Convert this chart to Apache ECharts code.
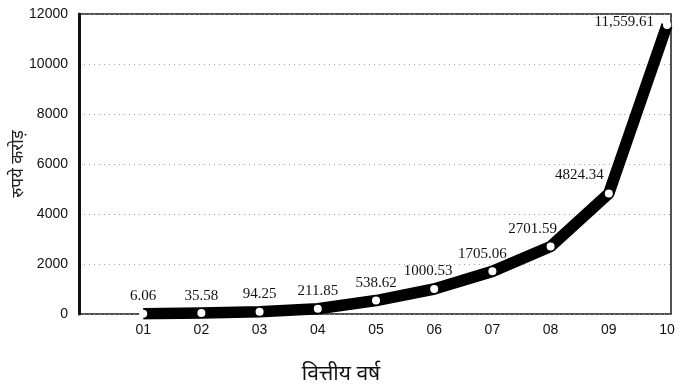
<!DOCTYPE html>
<html>
<head>
<meta charset="utf-8">
<script src="https://cdn.jsdelivr.net/npm/echarts@6/dist/echarts.min.js"></script>
<style>
html,body{margin:0;padding:0;background:#fff;}
#chart{width:694px;height:392px;}
</style>
</head>
<body>
<div id="chart"></div>
<script>
var categories = ['01','02','03','04','05','06','07','08','09','10'];
var values = [6.06, 35.58, 94.25, 211.85, 538.62, 1000.53, 1705.06, 2701.59, 4824.34, 11559.61];
var valueLabels = ['6.06','35.58','94.25','211.85','538.62','1000.53','1705.06','2701.59','4824.34','11,559.61'];
var yTicks = [0, 2000, 4000, 6000, 8000, 10000, 12000];
var yAxisName = 'रुपये करोड़';
var xAxisName = 'वित्तीय वर्ष';

var labelShiftX = [0, 0, 0, 0, 0, -6, -10, -18, 0, 0];

var seriesData = values.map(function (v, i) {
  var item = { value: [i + 1, v] };
  if (i === values.length - 1) {
    item.label = { position: 'left', distance: 9, offset: [0, -3] };
  } else if (i === values.length - 2) {
    item.label = { position: 'left', distance: 1, offset: [0, -18] };
  } else {
    item.label = { offset: [labelShiftX[i], 0] };
  }
  return item;
});

var chart = echarts.init(document.getElementById('chart'), null, { renderer: 'canvas' });
chart.setOption({
  animation: false,
  backgroundColor: '#fff',
  grid: [
    { left: 79, right: 23, top: 14, bottom: 78, show: true, borderColor: '#1a1a1a', borderWidth: 1.5, backgroundColor: 'transparent' },
    { left: 85, right: 27, top: 14, bottom: 78 }
  ],
  xAxis: [
    { gridIndex: 0, type: 'value', min: 0, max: 1, show: false },
    {
      gridIndex: 1, type: 'value', min: 0, max: 10, interval: 1,
      axisLine: { show: false }, axisTick: { show: false }, splitLine: { show: false },
      axisLabel: {
        margin: 9, color: '#111', fontSize: 14, fontFamily: 'Liberation Sans',
        formatter: function (v) { return v >= 1 ? categories[v - 1] : ''; }
      },
      name: xAxisName, nameLocation: 'middle', nameGap: 50,
      nameTextStyle: { color: '#111', fontSize: 21, fontFamily: 'Noto Sans, sans-serif', padding: [0, 70, 0, 0] }
    }
  ],
  yAxis: [
    {
      gridIndex: 0, type: 'value', min: yTicks[0], max: yTicks[yTicks.length - 1], interval: yTicks[1] - yTicks[0],
      axisLine: { show: true, lineStyle: { color: '#111', width: 3 } },
      axisTick: { show: false },
      splitLine: { show: true, lineStyle: { color: '#a0a0a0', type: [1, 4], width: 1 } },
      axisLabel: { margin: 11, color: '#111', fontSize: 14, fontFamily: 'Liberation Sans',
        formatter: function (v) { return String(v); } },
      name: yAxisName, nameLocation: 'middle', nameGap: 52, nameRotate: 90, nameMoveOverlap: false,
      nameTextStyle: { color: '#222', fontSize: 17, fontFamily: 'Noto Sans, sans-serif' }
    },
    { gridIndex: 1, type: 'value', min: 0, max: 12000, show: false }
  ],
  series: [{
    type: 'line',
    xAxisIndex: 1, yAxisIndex: 1,
    data: seriesData,
    lineStyle: { color: '#000', width: 11.5, join: 'round', cap: 'butt' },
    symbol: 'circle', symbolSize: 8,
    itemStyle: { color: '#fff', borderWidth: 0 },
    label: {
      show: true, position: 'top', distance: 6,
      color: '#111', fontSize: 15, fontFamily: 'Liberation Serif',
      formatter: function (p) { return valueLabels[p.dataIndex]; }
    },
    z: 3
  }]
});
</script>
</body>
</html>
